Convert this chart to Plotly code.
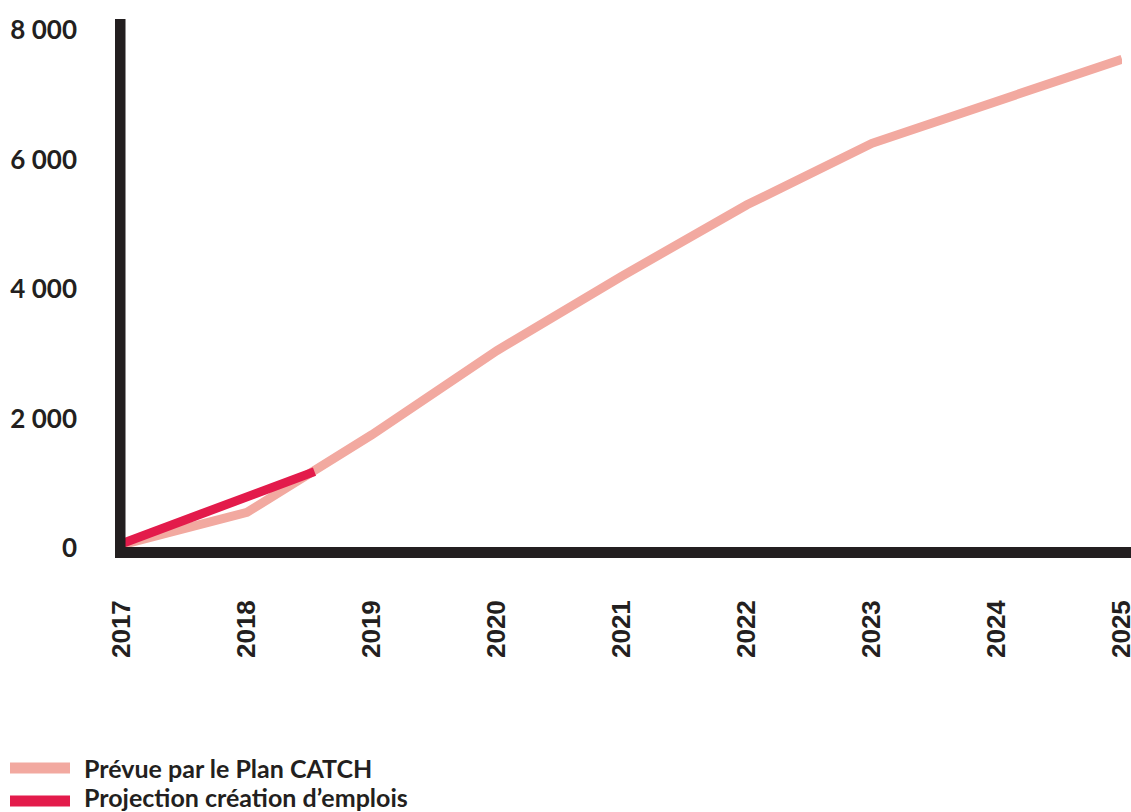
import plotly.graph_objects as go

# ---- data ----
years = [2017, 2018, 2019, 2020, 2021, 2022, 2023, 2024, 2025]
prevue = [50, 550, 1750, 3050, 4200, 5300, 6250, 6900, 7550]
proj_years = [2017, 2018.54]
projection = [70, 1180]
y_ticks = [0, 2000, 4000, 6000, 8000]
y_tick_labels = ["0", "2 000", "4 000", "6 000", "8 000"]
series_names = ["Prévue par le Plan CATCH", "Projection création d’emplois"]
colors = ["#F2A9A0", "#E31B4B"]

fig = go.Figure()
fig.add_trace(go.Scatter(x=years, y=prevue, mode="lines", name=series_names[0],
                         line=dict(color=colors[0], width=9), cliponaxis=False))
fig.add_trace(go.Scatter(x=proj_years, y=projection, mode="lines", name=series_names[1],
                         line=dict(color=colors[1], width=9), cliponaxis=False))

L, R, T, B = 122, 9, 30, 264
W, H = 1131, 812
pw, ph = W - L - R, H - T - B

def px(xp):
    return (xp - L) / pw

def py(yp):
    return (H - B - yp) / ph

black = "#231F20"
shapes = [
    dict(type="rect", xref="paper", yref="paper", x0=px(115), x1=px(125.5), y0=py(558), y1=py(19),
         fillcolor=black, line=dict(width=0), layer="above"),
    dict(type="rect", xref="paper", yref="paper", x0=px(115), x1=px(1131), y0=py(558), y1=py(547),
         fillcolor=black, line=dict(width=0), layer="above"),
]
annotations = []
legend_rows = [768, 801]
text_rows = [768, 797]
for name, col, yc, yt in zip(series_names, colors, legend_rows, text_rows):
    shapes.append(dict(type="rect", xref="paper", yref="paper", x0=px(10), x1=px(70),
                       y0=py(yc + 5.5), y1=py(yc - 5.5), fillcolor=col, line=dict(width=0)))
    annotations.append(dict(xref="paper", yref="paper", x=px(82), y=py(yt), text=name,
                            showarrow=False, xanchor="left", yanchor="middle",
                            font=dict(family="Lato", size=25, color=black, weight="bold")))

fig.update_layout(
    width=W, height=H,
    margin=dict(l=L, r=R, t=T, b=B, autoexpand=False),
    paper_bgcolor="white", plot_bgcolor="white",
    showlegend=False,
    shapes=shapes, annotations=annotations,
    xaxis=dict(range=[2017, 2025], tickvals=years, ticktext=[str(y) for y in years],
               tickangle=-90, showgrid=False, zeroline=False, showline=False,
               ticks="", ticklabelstandoff=46, ticklabeloverflow="allow", automargin=False,
               tickfont=dict(family="Liberation Sans", size=26, color=black, weight="bold")),
    yaxis=dict(range=[0, 8000], tickvals=y_ticks, ticktext=y_tick_labels,
               showgrid=False, zeroline=False, showline=False, ticks="",
               ticklabelstandoff=44, automargin=False,
               tickfont=dict(family="Lato", size=26, color=black, weight="bold")),
)

fig.write_html("out.html", config={"displayModeBar": False},
               post_script="document.body.style.margin='0';document.body.style.overflow='hidden';")
